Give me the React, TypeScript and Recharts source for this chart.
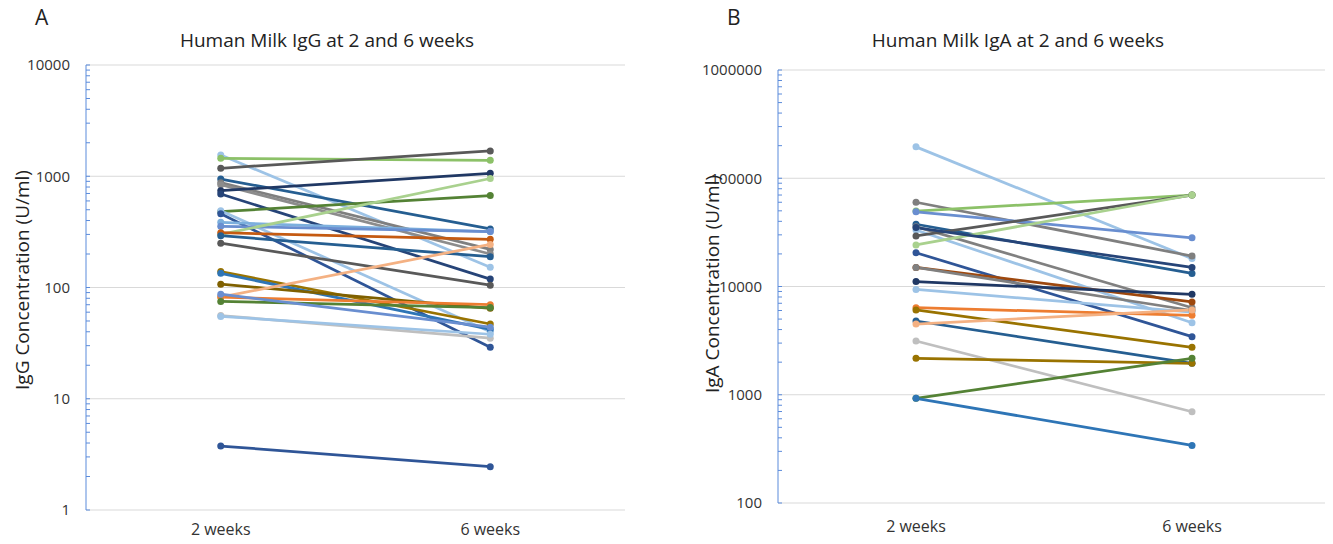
import { Line, LineChart, ReferenceLine, XAxis, YAxis } from "recharts";

const weeks = ["2 weeks", "6 weeks"];

// IgG (U/ml), one entry per subject
const iggWeek2 = [1553, 1450, 1180, 944, 875, 840, 741, 693, 480, 490, 460, 385, 355, 300, 311, 292, 250, 139, 134, 107, 82, 82, 75, 87, 56, 55, 3.76];
const iggWeek6 = [152, 1390, 1690, 336, 220, 200, 1063, 119, 670, 40, 29, 318, 318, 955, 271, 189, 105, 47, 42, 65, 244, 70, 66, 44, 35, 38, 2.45];
const iggColors = [
  "#9DC3E6", "#8CC168", "#595959", "#255E91", "#7F7F7F", "#8C8C8C", "#203864", "#264478", "#548235",
  "#9DC3E6", "#2F5597", "#7CAFDD", "#698ED0", "#A9D18E", "#C55A11", "#255E91", "#595959", "#997300",
  "#2E75B6", "#7F6000", "#F4B183", "#ED7D31", "#548235", "#698ED0", "#BFBFBF", "#9DC3E6", "#2F5597"
];
const iggTicks = [1, 10, 100, 1000, 10000];

// IgA (U/ml)
const igaWeek2 = [195000, 60000, 49700, 49000, 37600, 35700, 33300, 29300, 24200, 20500, 15000, 15000, 11100, 9400, 6370, 6070, 4800, 4500, 3140, 2170, 927, 927, 35000];
const igaWeek6 = [18100, 19100, 70000, 28200, 13200, 6360, 4630, 70000, 70000, 3440, 7200, 6000, 8470, 5800, 5420, 2740, 1950, 6070, 697, 1950, 2170, 340, 15000];
const igaColors = [
  "#9DC3E6", "#7F7F7F", "#8CC168", "#698ED0", "#255E91", "#808080", "#9DC3E6", "#595959", "#A9D18E",
  "#2F5597", "#9E480E", "#808080", "#203864", "#9DC3E6", "#ED7D31", "#997300", "#255E91", "#F4B183",
  "#BFBFBF", "#997300", "#548235", "#2E75B6", "#264478"
];
const igaTicks = [100, 1000, 10000, 100000, 1000000];

const font = "'Open Sans', sans-serif";
const axisBlue = "#5B8BDB";
const gridGray = "#D9D9D9";

function buildRows(w2: number[], w6: number[]) {
  return weeks.map((week, i) => {
    const row: Record<string, any> = { week };
    w2.forEach((v, k) => {
      row["s" + k] = i === 0 ? v : w6[k];
    });
    return row;
  });
}

function minorTicks(majors: number[]) {
  const out: number[] = [];
  majors.forEach((m, i) => {
    out.push(m);
    if (i < majors.length - 1) for (let k = 2; k <= 9; k++) out.push(m * k);
  });
  return out;
}

function LogTick(props: any) {
  const { x, y, payload } = props;
  const v = payload.value;
  const major = Math.abs(Math.log10(v) - Math.round(Math.log10(v))) < 1e-9;
  return (
    <g>
      <line x1={x + 16} x2={x + 20} y1={y} y2={y} stroke={axisBlue} strokeWidth={1} />
      {major && (
        <text x={x} y={y} dy="0.35em" textAnchor="end" fontSize={15} fill="#333" fontFamily={font}>
          {v}
        </text>
      )}
    </g>
  );
}

function Panel(props: {
  w2: number[]; w6: number[]; colors: string[]; majors: number[];
  width: number; top: number; axisWidth: number; right: number; xHeight: number; labelGap: number;
}) {
  const { w2, w6, colors, majors, width, top, axisWidth, right, xHeight, labelGap } = props;
  const rows = buildRows(w2, w6);
  // categories sit in the middle of two equal bands, like Excel
  const pad = (width - axisWidth - right) / 4;
  return (
    <LineChart width={width} height={544} data={rows} margin={{ top, right, bottom: 0, left: 0 }}>
      <XAxis
        dataKey="week"
        axisLine={{ stroke: gridGray }}
        tickLine={false}
        tickSize={0}
        tickMargin={labelGap}
        height={xHeight}
        padding={{ left: pad, right: pad }}
        tick={{ fontSize: 16, fill: "#333", fontFamily: font }}
      />
      <YAxis
        scale="log"
        domain={[majors[0], majors[majors.length - 1]]}
        ticks={minorTicks(majors)}
        interval={0}
        allowDataOverflow
        width={axisWidth}
        axisLine={{ stroke: axisBlue }}
        tickLine={false}
        tickSize={0}
        tickMargin={16}
        tick={<LogTick />}
      />
      {majors.slice(1).map((m) => (
        <ReferenceLine key={m} y={m} stroke={gridGray} strokeWidth={1} />
      ))}
      {w2.map((_, k) => (
        <Line
          key={k}
          dataKey={"s" + k}
          type="linear"
          stroke={colors[k]}
          strokeWidth={2.75}
          dot={{ r: 3.5, fill: colors[k], stroke: colors[k], strokeWidth: 0 }}
          isAnimationActive={false}
        />
      ))}
    </LineChart>
  );
}

const abs = (left: number, top: number): React.CSSProperties => ({
  position: "absolute", left, top, fontFamily: font, color: "#222", whiteSpace: "nowrap"
});

export default function App() {
  return (
    <div style={{ position: "relative", width: 1333, height: 544, margin: -8, background: "#fff", overflow: "hidden" }}>
      <div style={{ position: "absolute", left: 0, top: 0 }}>
        <Panel w2={iggWeek2} w6={iggWeek6} colors={iggColors} majors={iggTicks}
          width={650} top={65} axisWidth={86} right={25} xHeight={34} labelGap={14} />
      </div>
      <div style={{ position: "absolute", left: 690, top: 0 }}>
        <Panel w2={igaWeek2} w6={igaWeek6} colors={igaColors} majors={igaTicks}
          width={643} top={70} axisWidth={88} right={3} xHeight={41} labelGap={18} />
      </div>
      <div style={{ ...abs(35, 3), fontSize: 21 }}>A</div>
      <div style={{ ...abs(727, 3), fontSize: 21 }}>B</div>
      <div style={{ ...abs(327, 40), fontSize: 19, transform: "translate(-50%, -50%)" }}>Human Milk IgG at 2 and 6 weeks</div>
      <div style={{ ...abs(1018, 40), fontSize: 19, transform: "translate(-50%, -50%)" }}>Human Milk IgA at 2 and 6 weeks</div>
      <div style={{ ...abs(22, 280), fontSize: 19, transform: "translate(-50%, -50%) rotate(-90deg)" }}>
        IgG Concentration (U/ml)
      </div>
      <div style={{ ...abs(712, 284), fontSize: 19, transform: "translate(-50%, -50%) rotate(-90deg)" }}>
        IgA Concentration (U/ml)
      </div>
    </div>
  );
}
